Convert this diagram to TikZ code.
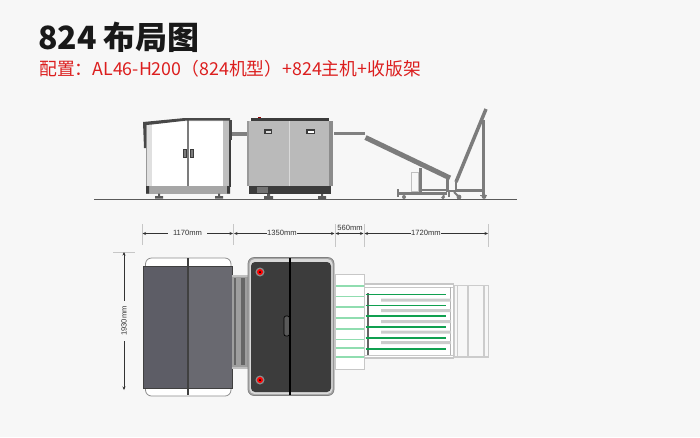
\documentclass[tikz,border=0pt]{standalone}
\usepackage{fontspec}
\setmainfont{Liberation Sans}
\newfontfamily\cjk{Noto Sans CJK SC}
\usetikzlibrary{arrows.meta}
\definecolor{bgc}{HTML}{F7F7F7}
\definecolor{redt}{HTML}{DC1E1E}
\definecolor{gline}{HTML}{5A5A5A}
\definecolor{dark}{HTML}{3C3C3C}
\definecolor{gr}{HTML}{10A050}
\definecolor{lgr}{HTML}{90DDB0}
\definecolor{fr}{HTML}{7C7C7C}
\definecolor{panelA}{HTML}{5D5D66}
\definecolor{panelB}{HTML}{696970}
\tikzset{
 dim/.style={draw=black!80,line width=.7pt,{Stealth[length=3.5pt,width=3pt]}-{Stealth[length=3.5pt,width=3pt]}},
 tick/.style={draw=black!22,line width=1pt},
 dimtext/.style={font=\fontsize{7.6}{8}\selectfont,text=black!80,fill=bgc,inner sep=.6pt},
 frame/.style={draw=fr,line width=2pt},
 foot/.style={fill=gline},
 lightbox/.style={draw=black!22,line width=1pt,fill=white},
 greenbar/.style={draw=gr,line width=1.5pt},
 lightgreen/.style={draw=lgr,line width=1.3pt},
 graybar/.style={draw=none,fill=black!20},
}
\begin{document}
\begin{tikzpicture}[x=1pt,y=-1pt]
\fill[bgc] (0,0) rectangle (700,437);
\useasboundingbox (0,0) rectangle (700,437);
% titles
\node[anchor=base west,inner sep=0pt,font=\fontsize{32}{36}\selectfont\cjk\bfseries,text=black!90] (title) at (38,49) {824 布局图};
\node[anchor=base west,inner sep=0pt,font=\fontsize{17.8}{20}\selectfont\cjk,text=redt] (sub) at (39,75) {配置：AL46-H200（824机型）+824主机+收版架};
% ground
\draw[gline,line width=1.8pt] (94,199.5) -- (517,199.5);
% side view: left machine
\fill[white] (146,122) rectangle (229,186);
\fill[black!12] (146,122) rectangle (152,186);
\fill[black!25] (223,120) rectangle (229,186);
\draw[fr,line width=1.2pt] (188,120) -- (188,186);
\draw[black!40,line width=.7pt] (146,122) -- (146,186);
\fill[gline!80!black] (143,122) -- (185,118) -- (230,118) -- (230,120.5) -- (187,120.5) -- (152,124.5) -- (146,125) -- (146,148) -- (144,148) -- (143,122) -- cycle;
\fill[gline!80!black] (229,120) rectangle (232,140);
\fill[dark] (229,140) rectangle (230.5,187);
\fill[fr] (183,149) rectangle (186,157);
\fill[fr] (190,149) rectangle (193,157);
\draw[dark,line width=.6pt] (183,149) rectangle (186,157) (190,149) rectangle (193,157);
\fill[black!35] (146,186) rectangle (230,193.5);
\fill[dark] (146,186) rectangle (149,193.5) (227,186) rectangle (230,193.5);
\fill[foot] (158,193.5) rectangle (160,196) (155,196) rectangle (163,198.5);
\fill[foot] (218,193.5) rectangle (220,196) (215,196) rectangle (223,198.5);
% side connector
\fill[black!50] (232,132) rectangle (247,136);
% side view: second machine
\fill[dark] (251,118) rectangle (329,122);
\fill[red!60!black] (258,116.5) rectangle (261,118);
\fill[black!27] (247,121) rectangle (333,186);
\fill[black!45] (329,121) rectangle (333,186);
\fill[black!40] (247,121) rectangle (248.5,186);
\draw[white!85!black,line width=1pt] (289,121) -- (289,186);
\fill[dark] (264,129) rectangle (272,134);
\fill[white!85!black] (265.5,130.5) rectangle (270.5,132.5);
\fill[dark] (306,129) rectangle (315,134);
\fill[white] (307.5,130.5) rectangle (313.5,132.5);
\fill[dark] (249,186) rectangle (331,194);
\fill[black!55] (257,187) rectangle (268,193);
\fill[foot] (267,194) rectangle (270,196) (264,196) rectangle (273,199);
\fill[foot] (321,194) rectangle (323,196) (318,196) rectangle (326,199);
\fill[black!50] (334,131.5) rectangle (364.5,134.5);
% chute and cart
\draw[black!25,line width=.8pt,fill=bgc] (411,172.5) rectangle (418,191);
\draw[fr,line width=5pt] (365.5,137.5) -- (450,178);
\draw[fr,line width=3pt] (420,168) -- (420,192);
\draw[fr,line width=3pt] (447.5,176) -- (447.5,192);
\draw[fr,line width=2.5pt] (420,190) -- (447,190);
\draw[fr,line width=3.5pt] (397,193.5) -- (447,193.5);
\draw[frame,line width=1.6pt] (398,189) -- (398,197);
\draw[frame,line width=1.6pt] (443,193) -- (444,197);
\draw[frame,line width=1.6pt] (449,191) -- (449,197);
\draw[fr,line width=1.6pt] (447,191) -- (456,191);
\fill[fr] (404,197) circle (2) (443,197.5) circle (1.8);
% rack
\draw[fr,line width=3.5pt] (486,109) -- (456,182);
\draw[fr,line width=3pt] (483,120) -- (483,195);
\draw[fr,line width=2.5pt] (456,182) -- (456,192);
\draw[fr,line width=2.5pt] (456,190.5) -- (483,190.5);
\draw[fr,line width=2pt] (454,192) -- (459,197);
\fill[fr] (459,197) circle (2.4) (484,196.5) circle (2.4);
\draw[fr,line width=1.2pt] (480,195.5) -- (487,195.5);
% dimensions
\coordinate (t1) at (142.5,224); \coordinate (b1) at (142.5,245);
\coordinate (t2) at (233,224); \coordinate (b2) at (233,245);
\coordinate (t3) at (335,224); \coordinate (b3) at (335,247);
\coordinate (t4) at (364,224); \coordinate (b4) at (364,247);
\coordinate (t5) at (488,224); \coordinate (b5) at (488,247);
\draw[tick] (t1) -- (b1) (t2) -- (b2) (t3) -- (b3) (t4) -- (b4) (t5) -- (b5);
\coordinate (d1) at (142.5,233.5); \coordinate (d2) at (233,233.5);
\coordinate (e2) at (234,233.5); \coordinate (e3) at (334.5,233.5);
\coordinate (f3) at (335.5,233.5); \coordinate (f4) at (363.5,233.5);
\coordinate (g4) at (364.5,233.5); \coordinate (g5) at (488,233.5);
\draw[dim] (d1) -- (d2);
\draw[dim] (e2) -- (e3);
\draw[dim] (f3) -- (f4);
\draw[dim] (g4) -- (g5);
\node[dimtext,inner xsep=5pt] (l1) at (187.5,233) {1170mm};
\node[dimtext] (l2) at (282,233) {1350mm};
\node[dimtext,fill=none] (l3) at (350,228) {560mm};
\node[dimtext] (l4) at (426,233) {1720mm};
\coordinate (vt) at (113,252); \coordinate (vt2) at (135,252);
\draw[tick] (vt) -- (vt2);
\coordinate (v1) at (124,252); \coordinate (v2) at (124,390);
\draw[dim] (v1) -- (v2);
\node[dimtext,rotate=90,inner ysep=2pt,inner xsep=5pt] (l5) at (124,321) {1930mm};
% plan: left machine
\draw[black!45,line width=.8pt,fill=white,rounded corners=6pt] (145.5,267) -- (145.5,258) -- (231,258) -- (231,267);
\draw[black!45,line width=.8pt,fill=white,rounded corners=6pt] (145.5,387) -- (145.5,396) -- (231,396) -- (231,387);
\fill[panelA] (143,266) rectangle (188,388);
\fill[panelB] (188,266) rectangle (232,388);
\draw[black!75,line width=.8pt] (143,266) rectangle (232,388);
\draw[black!75,line width=1.4pt] (188,258) -- (188,395);
% plan: bridge
\fill[black!38] (232,275) rectangle (248,369);
\fill[black!60] (233.5,278) rectangle (235.5,365);
\fill[black!60] (241,278) rectangle (244.5,365);
\fill[black!25] (232,275) rectangle (248,277);
\fill[black!25] (232,367) rectangle (248,369);
% plan: second machine
\draw[black!50,line width=.7pt,fill=black!35,rounded corners=6pt] (248,257.5) rectangle (334,395.5);
\fill[black!15,rounded corners=5pt] (249.5,259) rectangle (332.5,394);
\fill[dark,rounded corners=4pt] (251,262) rectangle (331,392);
\draw[black,line width=1.2pt] (290,258) -- (290,395);
\fill[black!45] (260,272) circle (4.5) (260,380) circle (4.5);
\fill[red] (260,272) circle (3) (260,380) circle (3);
\fill[black] (260,272) circle (1) (260,380) circle (1);
\draw[black,line width=.7pt,fill=black!65,rounded corners=2pt] (284,316) rectangle (289.5,336);
% plan: transfer
\draw[lightbox] (335,274) rectangle (364.5,369);
\draw[lightgreen] (335.5,286) -- (364,286) (335.5,296.5) -- (364,296.5) (335.5,307) -- (364,307) (335.5,318) -- (364,318) (335.5,329) -- (364,329) (335.5,339.5) -- (364,339.5) (335.5,348) -- (364,348) (335.5,357) -- (364,357);
% plan: stacker
\draw[black!20,line width=1.8pt,fill=bgc] (454,285.5) rectangle (488.5,357);
\draw[black!20,line width=2.5pt] (468,286) -- (468,356) (484,286) -- (484,356);
\draw[black!20,line width=1.5pt] (457.5,286) -- (457.5,356);
\draw[black!22,line width=1.4pt,fill=white] (364.5,284) rectangle (453.5,358);
\draw[black!22,line width=.8pt] (364.5,287) -- (453.5,287) (364.5,355) -- (453.5,355);
\fill[black!30] (449.5,287) rectangle (451,355);
\draw[black!60,line width=2.4pt] (368,293) -- (368,355);
\fill[graybar] (381,298.5) rectangle (451,301.5) (381,309) rectangle (451,312) (381,320) rectangle (451,323) (381,330.5) rectangle (451,333.5) (381,341) rectangle (451,344);
\draw[greenbar] (365.5,294.5) -- (446,294.5) (365.5,305.5) -- (446,305.5) (365.5,316) -- (446,316) (365.5,327) -- (446,327) (365.5,338) -- (446,338) (365.5,349) -- (446,349);
\end{tikzpicture}
\end{document}
